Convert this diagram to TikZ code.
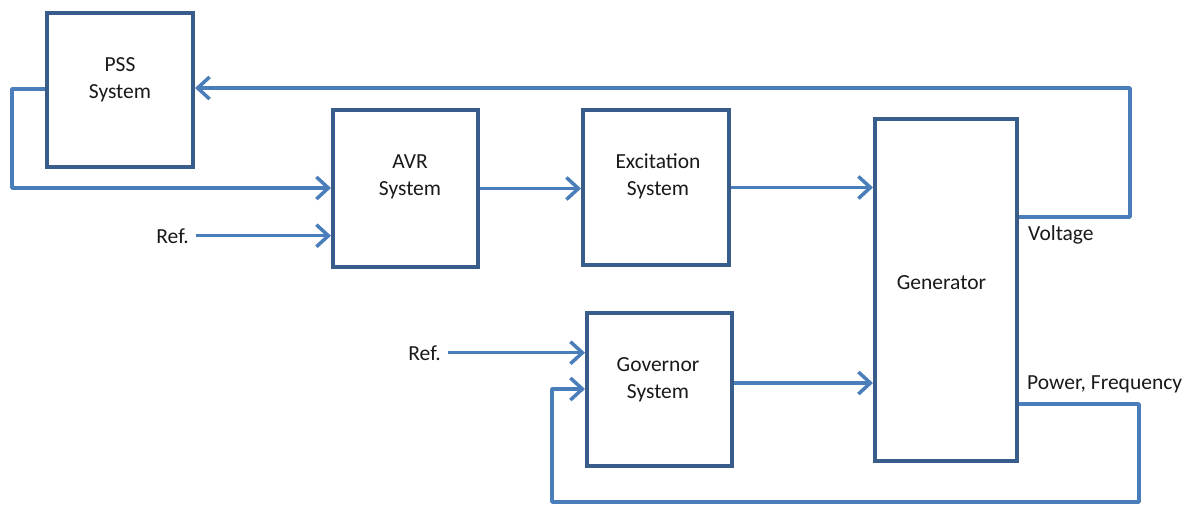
\documentclass[tikz,border=0pt]{standalone}
\usepackage{fontspec}
\setmainfont{Carlito}
\usetikzlibrary{arrows.meta}
\definecolor{boxc}{RGB}{56,93,138}
\definecolor{linec}{RGB}{74,126,187}
\begin{document}
\begin{tikzpicture}[x=1pt,y=-1pt,
  blk/.style={draw=boxc, line width=4pt, rectangle, inner sep=0pt},
  lbl/.style={font=\fontsize{21.5}{27}\selectfont, align=center, inner sep=0pt, text=black!90},
  reflbl/.style={font=\fontsize{21.5}{27}\selectfont, inner xsep=7pt, inner ysep=0pt, text=black!90, anchor=base east},
  conn/.style={draw=linec, line width=3.5pt, line join=round},
  arr/.style={conn, -{Straight Barb[length=12pt,width=22pt]}}]
\useasboundingbox (0,0) rectangle (1199,504);
% blocks
\node[blk, minimum width=146, minimum height=154] (pss) at (120,90) {};
\node[blk, minimum width=145, minimum height=157] (avr) at (405.5,188.5) {};
\node[blk, minimum width=146, minimum height=155] (exc) at (656,187.5) {};
\node[blk, minimum width=142, minimum height=342] (gen) at (946,290) {};
\node[blk, minimum width=145, minimum height=153] (gov) at (659.5,389.5) {};
% block texts
\node[lbl, anchor=base] (tpss) at (120,98) {PSS\\System};
\node[lbl, anchor=base] (tavr) at (410,195) {AVR\\System};
\node[lbl, anchor=base] (texc) at (658,195) {Excitation\\System};
\node[lbl, anchor=base] (tgen) at (941.5,289) {Generator};
\node[lbl, anchor=base] (tgov) at (658,398) {Governor\\System};
% other labels
\node[reflbl] (ref1) at (196,243) {Ref.};
\node[reflbl] (ref2) at (448,360) {Ref.};
\node[lbl, anchor=base west] (volt) at (1028,240) {Voltage};
\node[lbl, anchor=base west] (pf) at (1027,389) {Power, Frequency};
% corner coordinates
\coordinate (v1) at (1130,217);
\coordinate (v2) at (1130,88);
\coordinate (p1) at (12,89);
\coordinate (p2) at (12,188);
\coordinate (g1) at (0,383);
\coordinate (f1) at (1139,404);
\coordinate (f2) at (1139,502);
\coordinate (f3) at (552,502);
\coordinate (f4) at (552,389);
% connectors
\draw[arr] (gen.east |- v1) -- (v1) -- (v2) -- (pss.east |- v2);
\draw[arr] (pss.west |- p1) -- (p1) -- (p2) -- (avr.west |- p2);
\draw[arr] (ref1.east) -- (avr.west |- ref1.east);
\draw[arr] (avr.east) -- (exc.west |- avr.east);
\draw[arr] (exc.east) -- (gen.west |- exc.east);
\draw[arr] (ref2.east) -- (gov.west |- ref2.east);
\draw[arr] (gov.east |- g1) -- (gen.west |- g1);
\draw[arr] (gen.east |- f1) -- (f1) -- (f2) -- (f3) -- (f4) -- (gov.west |- f4);
\end{tikzpicture}
\end{document}
